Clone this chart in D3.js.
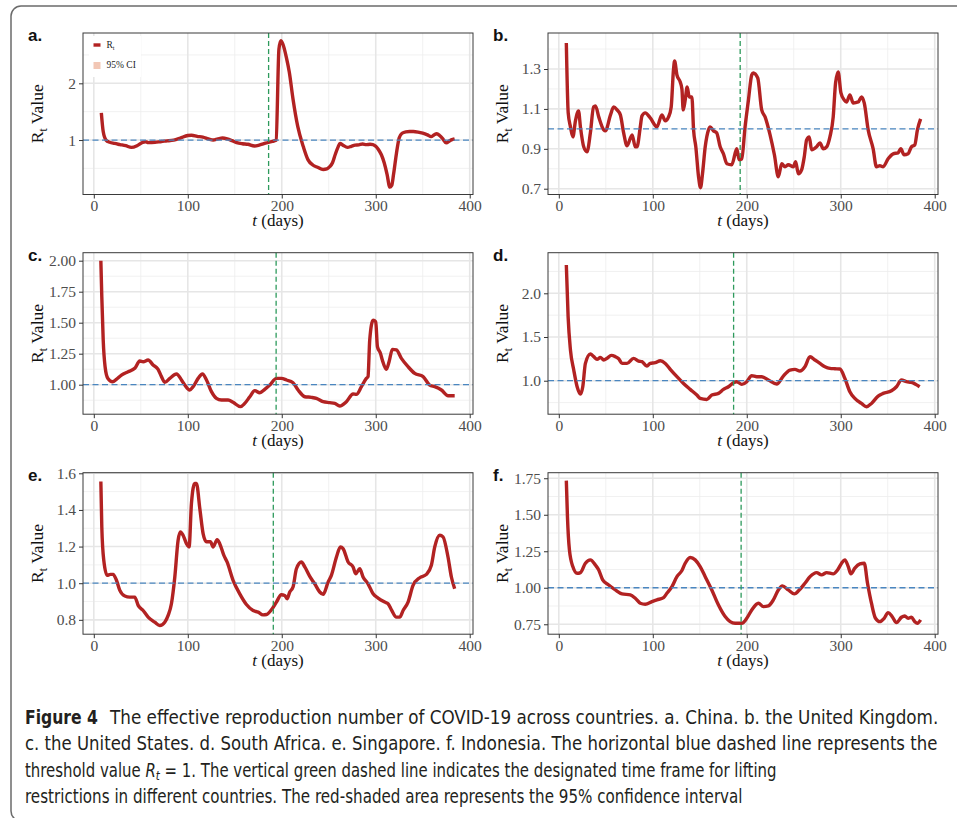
<!DOCTYPE html>
<meta charset="utf-8">
<script src="https://d3js.org/d3.v7.min.js"></script>
<style>
  body { margin: 0; background: #fff; }
  .tick text { font-family: "Liberation Serif", "DejaVu Serif", serif; }
</style>
<div id="chart"></div>
<script>

// ---- values: t (days) and Rt per country ----
var chinaDays = [8,10,13,17,22,28,34,40,46,52,55,58,65,72,78,85,92,100,104,110,116,122,127,132,137,142,147,152,158,164,171,176,181,186,190,193,194,197,199,201,205,208,212,217,223,228,233,238,244,248,251,254,257,260,262,265,270,274,278,282,286,290,294,297,300,303,306,309,312,315,317,319,322,325,328,332,336,340,345,350,355,359,362,365,368,371,375,379,382,384];
var chinaRt   = [1.48,1.15,1.0,0.96,0.94,0.92,0.9,0.87,0.9,0.96,0.97,0.955,0.96,0.975,0.985,1.0,1.035,1.08,1.085,1.065,1.05,1.02,1.0,1.02,1.035,1.02,0.99,0.955,0.935,0.925,0.895,0.91,0.935,0.96,0.975,0.99,1.0,2.6,2.75,2.7,2.45,2.2,1.72,1.24,0.88,0.65,0.56,0.52,0.48,0.49,0.53,0.6,0.75,0.88,0.94,0.91,0.87,0.89,0.91,0.915,0.93,0.92,0.925,0.92,0.89,0.83,0.74,0.6,0.4,0.17,0.2,0.4,0.76,1.04,1.12,1.145,1.15,1.15,1.14,1.12,1.09,1.06,1.09,1.11,1.08,1.03,0.95,0.99,1.01,1.02];

var ukDays = [8,10,12.4,15,17.7,21,23,26.5,30,33.6,37,39,42.5,47.8,49.6,55,58.4,62,65.5,69,72.6,78,81.4,83.2,86.7,88.5,92,97.3,104.4,109.7,113.3,116.8,119.6,122,123.2,125.7,129.2,131,132.4,134.5,136.6,138.8,141.6,143.4,145.8,148.7,150.8,152.9,155.8,159.3,161,164.6,168,171.7,175.2,178.8,184,189.4,191.9,194.7,198.2,201.8,205.3,207,211.7,215.9,219.5,224.8,229.4,233.6,237.2,240.7,244.2,249.6,252,254.9,258.4,261.2,263.7,266.5,269,274.3,277.9,281.4,285,288.5,292,294.5,297.3,300.2,303.7,306.2,309.7,313.3,318.6,322.1,325,329.2,334.5,338,341.6,345.1,350.4,355.8,361,363.9,367.4,371.7,375.2,378.8,381.6,385];
var ukRt   = [1.43,1.08,1.01,0.96,1.04,1.09,1.01,0.91,0.885,0.98,1.11,1.115,1.06,0.995,0.99,1.07,1.11,1.095,1.07,0.98,0.915,0.97,0.91,0.91,1.01,1.065,1.08,1.055,1.01,1.07,1.04,1.06,1.11,1.295,1.34,1.27,1.235,1.2,1.095,1.145,1.21,1.16,1.16,0.995,0.91,0.76,0.705,0.775,0.91,0.995,1.01,0.99,0.98,0.91,0.875,0.825,0.82,0.9,0.845,0.85,1.01,1.145,1.27,1.28,1.255,1.095,1.06,0.97,0.87,0.76,0.825,0.81,0.82,0.81,0.835,0.775,0.795,0.86,0.945,0.96,0.895,0.91,0.93,0.9,0.91,0.96,1.06,1.23,1.285,1.18,1.145,1.135,1.17,1.13,1.135,1.16,1.13,0.995,0.9,0.81,0.815,0.81,0.85,0.875,0.88,0.9,0.87,0.875,0.91,0.92,0.995,1.05];

var usDays = [7.5,8.5,10,12,15,20,24,29.4,36.5,43.6,48.9,52.5,57.8,63.1,68.4,72,75.5,80.9,88,93.3,96.8,102,105.7,111,115.6,119.9,125.2,130.5,135.8,142.9,148.2,156,160.6,166,171.3,176.6,181.9,187.2,194.3,199.6,205,212,217.4,224.5,231.6,236.9,244,251,256.4,261.7,268.8,275.9,279.4,284.8,290,291.8,293.6,297.2,300,301.8,305,307,311.3,314.2,317.7,322,327.3,334.4,341.5,350.4,357.4,362.8,369.9,377,384];
var usRt   = [2.0,1.71,1.36,1.145,1.05,1.024,1.043,1.078,1.105,1.132,1.191,1.185,1.199,1.159,1.124,1.065,1.019,1.051,1.086,1.038,0.997,0.957,0.984,1.051,1.086,1.038,0.944,0.89,0.876,0.876,0.858,0.823,0.849,0.903,0.952,0.935,0.962,0.997,1.051,1.051,1.038,1.016,0.957,0.903,0.898,0.89,0.863,0.855,0.849,0.828,0.863,0.925,0.922,0.984,1.051,1.065,1.36,1.521,1.508,1.306,1.253,1.199,1.124,1.185,1.285,1.28,1.212,1.145,1.091,1.065,0.997,0.984,0.957,0.911,0.911];

var saDays = [8,9.9,12.4,15.9,19.5,23,25.5,28.3,33.6,37.2,40.7,44.2,47.8,51.3,55.9,60.2,63.7,67.3,72.6,79.6,85,88.5,93.8,97.3,102.7,108,113.3,118.6,125.7,132.7,139.8,146.9,150.4,157.5,162.8,169.9,175.2,180.5,185.8,189.4,194.7,200,205.3,210.6,215.9,223,231.9,238.9,246,251.3,256.6,261.9,267.3,272.6,277.9,283.2,288.5,293.8,299.1,304.4,309.7,315,322.1,327.4,332.7,339.8,345.1,354,359.3,364.6,369.9,375.2,384];
var saRt   = [2.324,1.733,1.351,1.122,0.931,0.847,0.931,1.198,1.305,1.275,1.244,1.267,1.237,1.256,1.29,1.275,1.252,1.198,1.198,1.256,1.225,1.218,1.168,1.198,1.206,1.229,1.198,1.13,1.046,0.969,0.901,0.836,0.798,0.786,0.836,0.855,0.901,0.931,0.977,0.989,0.958,0.989,1.057,1.046,1.046,1.008,0.962,1.053,1.122,1.13,1.111,1.16,1.275,1.237,1.198,1.16,1.141,1.137,1.134,1.027,0.874,0.798,0.74,0.702,0.74,0.824,0.855,0.885,0.931,1.008,0.989,0.981,0.931];

var sgDays = [7.5,8.5,10.6,14.2,17.7,20.6,24.1,27.7,33,38.3,43.6,47.2,52.5,57.8,64.9,70.2,75.5,79.1,82.6,86.2,89.7,92.2,95,98.6,101.4,103.9,107.4,109.2,112.8,116.3,119.9,124.1,127,131.2,134,138.3,141.8,148.2,155.3,162.4,169.5,174.8,180.1,183.7,189,194.3,199.6,203.2,205.7,208.5,212,215.6,220.9,224.5,229.8,235.1,240.4,244,249.3,252.8,258.2,262.4,265.2,270.6,275.9,278.7,283,286.5,291.8,297.2,302.5,309.6,313.1,316.7,322,325.5,329.1,334.4,339.7,346.8,353.9,359.2,362.8,368.1,371.6,376.9,380.5,384];
var sgRt   = [1.555,1.308,1.125,1.043,1.048,1.048,1.016,0.961,0.93,0.924,0.924,0.879,0.851,0.815,0.787,0.769,0.787,0.824,0.888,1.034,1.235,1.28,1.262,1.216,1.198,1.436,1.545,1.545,1.408,1.271,1.226,1.226,1.198,1.238,1.216,1.153,1.116,1.016,0.942,0.884,0.851,0.842,0.827,0.829,0.855,0.897,0.937,0.933,0.915,0.952,0.979,1.079,1.116,1.089,1.037,0.997,0.952,0.939,1.006,1.043,1.143,1.198,1.189,1.116,1.089,1.052,1.079,1.034,0.997,0.942,0.919,0.897,0.888,0.855,0.815,0.815,0.851,0.897,0.988,1.03,1.048,1.098,1.198,1.262,1.253,1.143,1.034,0.97];

var idDays = [8,9.2,11.3,14.9,19.5,23,28.3,33.6,38.9,42.5,46.7,53.1,60.2,67.3,76.1,81.4,86.7,92,99.1,104.4,111.5,115,120.4,125.7,131,134.5,139.8,145.1,150.4,155.8,162.8,169.9,177,182.3,187.6,194.7,200,205.3,212.4,217.7,223,228.3,233.6,237.9,244.2,250.6,256.6,261.9,267.3,274.3,279.6,285,292,296.6,300.9,304.4,308,310.8,315,320.4,325,328.5,332.7,337,341.6,346.2,350.4,354.7,359.3,364.6,368.1,371.7,375.2,378.8,381.6,385];
var idRt   = [1.734,1.487,1.259,1.145,1.099,1.104,1.168,1.191,1.156,1.122,1.054,1.019,0.985,0.958,0.951,0.928,0.894,0.887,0.905,0.917,0.933,0.962,1.008,1.076,1.118,1.168,1.207,1.191,1.145,1.076,0.985,0.882,0.803,0.768,0.757,0.757,0.791,0.848,0.894,0.871,0.876,0.917,0.985,1.013,0.985,0.958,0.99,1.031,1.076,1.104,1.088,1.104,1.095,1.122,1.168,1.191,1.145,1.095,1.134,1.163,1.168,1.031,0.894,0.791,0.768,0.791,0.83,0.803,0.761,0.798,0.807,0.791,0.798,0.768,0.757,0.78];

// ---- axes / annotations ----
var panelLabels = ["a.", "b.", "c.", "d.", "e.", "f."];
var liftDays = [186, 193, 194, 186, 191, 194];
var xTickValues = [0, 100, 200, 300, 400];
var xMinorValues = [50, 150, 250, 350];
var xDomain = [-11.5, 403.5];
var yDomains = [[0.04, 2.887], [0.671, 1.4805], [0.762, 2.0645], [0.617, 2.4645], [0.7216, 1.6033], [0.682, 1.788]];
var yTickValues = [[1, 2], [0.7, 0.9, 1.1, 1.3], [1, 1.25, 1.5, 1.75, 2], [1, 1.5, 2], [0.8, 1, 1.2, 1.4, 1.6], [0.75, 1, 1.25, 1.5, 1.75]];
var yTickFormats = ["d", ".1f", ".2f", ".1f", ".1f", ".2f"];

var captionLines = [
  "The effective reproduction number of COVID-19 across countries. a. China. b. the United Kingdom.",
  "c. the United States. d. South Africa. e. Singapore. f. Indonesia. The horizontal blue dashed line represents the",
  " = 1. The vertical green dashed line indicates the designated time frame for lifting",
  "restrictions in different countries. The red-shaded area represents the 95% confidence interval"
];

var seriesDays = [chinaDays, ukDays, usDays, saDays, sgDays, idDays];
var seriesRt = [chinaRt, ukRt, usRt, saRt, sgRt, idRt];

// layout
var colLeft = [83, 548], rowTop = [33, 252.7, 472.7];
var plotW = 390, plotH = 161.5;
var serif = "'Liberation Serif', 'DejaVu Serif', serif";
var sans = "'Liberation Sans', Arial, sans-serif";
var narrow = "'Liberation Sans Narrow', 'DejaVu Sans Condensed', 'Open Sans', sans-serif";

var svg = d3.select("#chart")
  .append("svg")
    .attr("width", 957)
    .attr("height", 818);

// outer frame of the figure box
svg.append("rect")
  .attr("x", 11).attr("y", 6)
  .attr("width", 1000).attr("height", 815)
  .attr("rx", 10)
  .attr("fill", "none")
  .attr("stroke", "#6b6b6b")
  .attr("stroke-width", 1.5);

function drawPanel(i) {
  var gx = colLeft[i % 2], gy = rowTop[Math.floor(i / 2)];
  var g = svg.append("g").attr("transform", "translate(" + gx + "," + gy + ")");

  var x = d3.scaleLinear().domain(xDomain).range([0, plotW]);
  var y = d3.scaleLinear().domain(yDomains[i]).range([plotH, 0]);

  var majY = yTickValues[i], step = majY[1] - majY[0];
  var minY = [];
  for (var v = majY[0] - step / 2; v <= yDomains[i][1]; v += step) {
    if (v >= yDomains[i][0]) minY.push(v);
  }

  // minor grid
  g.selectAll(".mx").data(xMinorValues).enter().append("line")
    .attr("x1", function(d) { return x(d); }).attr("x2", function(d) { return x(d); })
    .attr("y1", 0).attr("y2", plotH)
    .attr("stroke", "#ededed").attr("stroke-width", 0.8);
  g.selectAll(".my").data(minY).enter().append("line")
    .attr("y1", function(d) { return y(d); }).attr("y2", function(d) { return y(d); })
    .attr("x1", 0).attr("x2", plotW)
    .attr("stroke", "#ededed").attr("stroke-width", 0.8);

  // major grid
  g.selectAll(".gx").data(xTickValues).enter().append("line")
    .attr("x1", function(d) { return x(d); }).attr("x2", function(d) { return x(d); })
    .attr("y1", 0).attr("y2", plotH)
    .attr("stroke", "#e6e6e6").attr("stroke-width", 1.6);
  g.selectAll(".gy").data(majY).enter().append("line")
    .attr("y1", function(d) { return y(d); }).attr("y2", function(d) { return y(d); })
    .attr("x1", 0).attr("x2", plotW)
    .attr("stroke", "#e6e6e6").attr("stroke-width", 1.6);

  // Rt line
  var line = d3.line()
    .x(function(d) { return x(d[0]); })
    .y(function(d) { return y(d[1]); })
    .curve(d3.curveMonotoneX);
  g.append("path")
    .datum(d3.zip(seriesDays[i], seriesRt[i]))
    .attr("d", line)
    .attr("fill", "none")
    .attr("stroke", "#b22222")
    .attr("stroke-width", 3.4)
    .attr("stroke-linejoin", "round");

  // threshold Rt = 1
  g.append("line")
    .attr("x1", 0).attr("x2", plotW)
    .attr("y1", y(1)).attr("y2", y(1))
    .attr("stroke", "#4a86c0").attr("stroke-width", 1.3)
    .attr("stroke-dasharray", "6,3.5");

  // lifting restrictions
  g.append("line")
    .attr("x1", x(liftDays[i])).attr("x2", x(liftDays[i]))
    .attr("y1", 0).attr("y2", plotH)
    .attr("stroke", "#2e9a5c").attr("stroke-width", 1.3)
    .attr("stroke-dasharray", "5,3");

  // border
  g.append("rect")
    .attr("width", plotW).attr("height", plotH)
    .attr("fill", "none").attr("stroke", "#3a3a3a").attr("stroke-width", 1);

  // axes
  var xa = g.append("g")
    .attr("transform", "translate(0," + plotH + ")")
    .call(d3.axisBottom(x).tickValues(xTickValues).tickSize(4).tickPadding(1.5));
  var ya = g.append("g")
    .call(d3.axisLeft(y).tickValues(majY).tickSize(4).tickPadding(3).tickFormat(d3.format(yTickFormats[i])));
  [xa, ya].forEach(function(a) {
    a.select(".domain").remove();
    a.selectAll(".tick line").attr("stroke", "#333");
    a.selectAll(".tick text").attr("fill", "#4d4d4d").style("font-size", "15.5px");
  });

  // x title
  var xt = g.append("text")
    .attr("x", plotW / 2).attr("y", plotH + 31.5)
    .attr("text-anchor", "middle")
    .style("font-family", serif).style("font-size", "17px").attr("fill", "#111");
  xt.append("tspan").style("font-style", "italic").text("t");
  xt.append("tspan").text(" (days)");

  // y title
  var yt = g.append("text")
    .attr("transform", "translate(-40," + (plotH / 2) + ") rotate(-90)")
    .attr("text-anchor", "middle")
    .style("font-family", serif).style("font-size", "17.5px").attr("fill", "#111");
  yt.append("tspan").text("R");
  yt.append("tspan").attr("dy", 4).style("font-size", "12px").text("t");
  yt.append("tspan").attr("dy", -4).text(" Value");

  // panel tag
  svg.append("text")
    .attr("x", gx - 55).attr("y", gy + 8)
    .style("font-family", sans).style("font-weight", "bold").style("font-size", "17px")
    .attr("fill", "#111")
    .text(panelLabels[i]);

  if (i === 0) {
    var lg = g.append("g");
    lg.append("rect")
      .attr("x", 6).attr("y", 3).attr("width", 52).attr("height", 41)
      .attr("fill", "#fff");
    lg.append("line")
      .attr("x1", 10.5).attr("x2", 17.5).attr("y1", 12).attr("y2", 12)
      .attr("stroke", "#b22222").attr("stroke-width", 3.4);
    lg.append("rect")
      .attr("x", 10.5).attr("y", 29).attr("width", 7).attr("height", 7)
      .attr("fill", "#f2c7b5");
    var l1 = lg.append("text").attr("x", 23.5).attr("y", 15.3)
      .style("font-family", serif).style("font-size", "9.5px").attr("fill", "#222");
    l1.append("tspan").text("R");
    l1.append("tspan").attr("dy", 2).style("font-size", "6.5px").text("t");
    lg.append("text").attr("x", 23.5).attr("y", 35.3)
      .style("font-family", serif).style("font-size", "9.5px").attr("fill", "#222")
      .text("95% CI");
  }
}

for (var i = 0; i < 6; i++) drawPanel(i);

// caption: each line squeezed horizontally to the width it has in the figure
var capY = [723.5, 750, 776.5, 803];
var cap = svg.append("g").style("font-family", narrow).style("font-size", "19px").attr("fill", "#231f20");

function fitLine(t, x0, y0, width) {
  var w = t.node().getBBox().width;
  t.attr("transform", "translate(" + x0 + "," + y0 + ") scale(" + (width / w) + ",1)");
}

var c0 = cap.append("text").style("font-weight", "bold").text("Figure 4");
fitLine(c0, 25, capY[0], 73);
var c1 = cap.append("text").text(captionLines[0]);
fitLine(c1, 110, capY[0], 830);
var c2 = cap.append("text").text(captionLines[1]);
fitLine(c2, 25, capY[1], 913);
var c3 = cap.append("text");
c3.append("tspan").text("threshold value ");
c3.append("tspan").style("font-style", "italic").text("R");
c3.append("tspan").attr("dy", 3).style("font-style", "italic").style("font-size", "13px").text("t");
c3.append("tspan").attr("dy", -3).text(captionLines[2]);
fitLine(c3, 25, capY[2], 752);
var c4 = cap.append("text").text(captionLines[3]);
fitLine(c4, 25, capY[3], 718);

</script>
